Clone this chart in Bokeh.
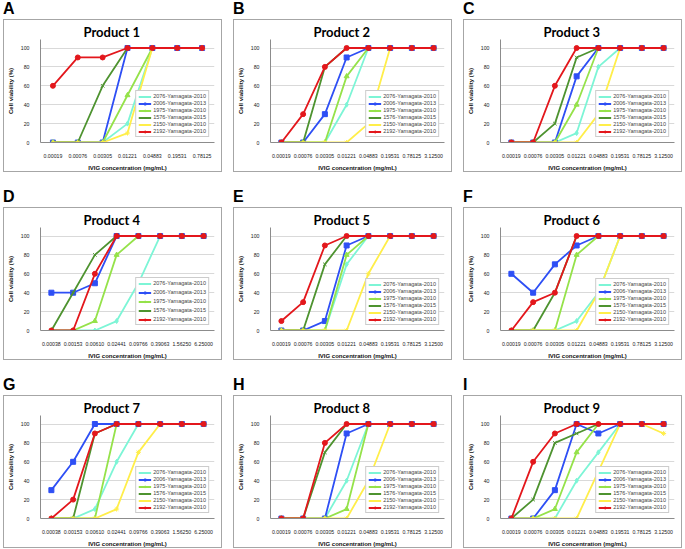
from bokeh.plotting import figure
from bokeh.layouts import column, row
from bokeh.models import Div, Range1d, FactorRange, FixedTicker
from bokeh.embed import file_html
from bokeh.resources import INLINE

# ---- data ----
conc_a = ["0.00019", "0.00076", "0.00305", "0.01221", "0.04883", "0.19531", "0.78125"]
conc_b = ["0.00019", "0.00076", "0.00305", "0.01221", "0.04883", "0.19531", "0.78125", "3.12500"]
conc_d = ["0.00038", "0.00153", "0.00610", "0.02441", "0.09766", "0.39063", "1.56250", "6.25000"]

strains = ["2076-Yamagata-2010", "2006-Yamagata-2013", "1975-Yamagata-2010",
           "1576-Yamagata-2015", "2150-Yamagata-2010", "2192-Yamagata-2010"]
y_ticks = [0, 20, 40, 60, 80, 100]

product1 = {
    "2076-Yamagata-2010": [0, 0, 0, 20, 100, 100, 100],
    "2006-Yamagata-2013": [0, 0, 0, 100, 100, 100, 100],
    "1975-Yamagata-2010": [0, 0, 0, 50, 100, 100, 100],
    "1576-Yamagata-2015": [0, 0, 60, 100, 100, 100, 100],
    "2150-Yamagata-2010": [0, 0, 0, 10, 100, 100, 100],
    "2192-Yamagata-2010": [60, 90, 90, 100, 100, 100, 100],
}
product2 = {
    "2076-Yamagata-2010": [0, 0, 0, 40, 100, 100, 100, 100],
    "2006-Yamagata-2013": [0, 0, 30, 90, 100, 100, 100, 100],
    "1975-Yamagata-2010": [0, 0, 0, 70, 100, 100, 100, 100],
    "1576-Yamagata-2015": [0, 0, 80, 100, 100, 100, 100, 100],
    "2150-Yamagata-2010": [0, 0, 0, 0, 20, 100, 100, 100],
    "2192-Yamagata-2010": [0, 30, 80, 100, 100, 100, 100, 100],
}
product3 = {
    "2076-Yamagata-2010": [0, 0, 0, 10, 80, 100, 100, 100],
    "2006-Yamagata-2013": [0, 0, 0, 70, 100, 100, 100, 100],
    "1975-Yamagata-2010": [0, 0, 0, 40, 100, 100, 100, 100],
    "1576-Yamagata-2015": [0, 0, 20, 90, 100, 100, 100, 100],
    "2150-Yamagata-2010": [0, 0, 0, 0, 30, 100, 100, 100],
    "2192-Yamagata-2010": [0, 0, 60, 100, 100, 100, 100, 100],
}
product4 = {
    "2076-Yamagata-2010": [0, 0, 0, 10, 50, 100, 100, 100],
    "2006-Yamagata-2013": [40, 40, 50, 100, 100, 100, 100, 100],
    "1975-Yamagata-2010": [0, 0, 10, 80, 100, 100, 100, 100],
    "1576-Yamagata-2015": [0, 40, 80, 100, 100, 100, 100, 100],
    "2192-Yamagata-2010": [0, 0, 60, 100, 100, 100, 100, 100],
}
product5 = {
    "2076-Yamagata-2010": [0, 0, 0, 70, 100, 100, 100, 100],
    "2006-Yamagata-2013": [0, 0, 10, 90, 100, 100, 100, 100],
    "1975-Yamagata-2010": [0, 0, 0, 80, 100, 100, 100, 100],
    "1576-Yamagata-2015": [0, 0, 70, 100, 100, 100, 100, 100],
    "2150-Yamagata-2010": [0, 0, 0, 0, 60, 100, 100, 100],
    "2192-Yamagata-2010": [10, 30, 90, 100, 100, 100, 100, 100],
}
product6 = {
    "2076-Yamagata-2010": [0, 0, 0, 10, 40, 100, 100, 100],
    "2006-Yamagata-2013": [60, 40, 70, 90, 100, 100, 100, 100],
    "1975-Yamagata-2010": [0, 0, 0, 80, 100, 100, 100, 100],
    "1576-Yamagata-2015": [0, 0, 40, 100, 100, 100, 100, 100],
    "2150-Yamagata-2010": [0, 0, 0, 0, 40, 100, 100, 100],
    "2192-Yamagata-2010": [0, 30, 40, 100, 100, 100, 100, 100],
}
product7 = {
    "2076-Yamagata-2010": [0, 0, 10, 60, 100, 100, 100, 100],
    "2006-Yamagata-2013": [30, 60, 100, 100, 100, 100, 100, 100],
    "1975-Yamagata-2010": [0, 0, 0, 100, 100, 100, 100, 100],
    "1576-Yamagata-2015": [0, 0, 90, 100, 100, 100, 100, 100],
    "2150-Yamagata-2010": [0, 0, 0, 10, 70, 100, 100, 100],
    "2192-Yamagata-2010": [0, 20, 90, 100, 100, 100, 100, 100],
}
product8 = {
    "2076-Yamagata-2010": [0, 0, 0, 40, 100, 100, 100, 100],
    "2006-Yamagata-2013": [0, 0, 0, 90, 100, 100, 100, 100],
    "1975-Yamagata-2010": [0, 0, 0, 10, 100, 100, 100, 100],
    "1576-Yamagata-2015": [0, 0, 70, 100, 100, 100, 100, 100],
    "2150-Yamagata-2010": [0, 0, 0, 0, 40, 100, 100, 100],
    "2192-Yamagata-2010": [0, 0, 80, 100, 100, 100, 100, 100],
}
product9 = {
    "2076-Yamagata-2010": [0, 0, 0, 40, 70, 100, 100, 100],
    "2006-Yamagata-2013": [0, 0, 30, 100, 90, 100, 100, 100],
    "1975-Yamagata-2010": [0, 0, 10, 70, 100, 100, 100, 100],
    "1576-Yamagata-2015": [0, 20, 80, 90, 100, 100, 100, 100],
    "2150-Yamagata-2010": [0, 0, 0, 0, 50, 100, 100, 90],
    "2192-Yamagata-2010": [0, 60, 90, 100, 100, 100, 100, 100],
}

colors = {
    "2076-Yamagata-2010": "#7DF5D6",
    "2006-Yamagata-2013": "#2E4FF5",
    "1975-Yamagata-2010": "#95E24A",
    "1576-Yamagata-2015": "#4E9330",
    "2150-Yamagata-2010": "#FFEE4A",
    "2192-Yamagata-2010": "#E3171C",
}
markers = {
    "2076-Yamagata-2010": "diamond",
    "2006-Yamagata-2013": "square",
    "1975-Yamagata-2010": "triangle",
    "1576-Yamagata-2015": "x",
    "2150-Yamagata-2010": "asterisk",
    "2192-Yamagata-2010": "circle",
}

FONT = "Liberation Sans"
TITLE_FONT = "Lato"
AXIS_GRAY = "#8C8C8C"


def panel(letter, title, conc, data, leg_spacing=1):
    p = figure(width=219, height=153, x_range=FactorRange(*conc), y_range=Range1d(0, 109),
               output_backend="svg", toolbar_location=None,
               min_border_left=26, min_border_right=9, min_border_top=19, min_border_bottom=28,
               styles={"border": "1px solid #A6A6A6", "box-sizing": "border-box"})
    p.outline_line_color = None
    p.background_fill_color = "white"
    p.border_fill_color = "white"
    p.xgrid.grid_line_color = None
    p.ygrid.grid_line_color = "#D9D9D9"
    p.ygrid.grid_line_width = 1
    p.yaxis.ticker = FixedTicker(ticks=y_ticks)
    for ax in (p.xaxis, p.yaxis):
        ax.axis_line_color = AXIS_GRAY
        ax.major_tick_line_color = None
        ax.minor_tick_line_color = None
        ax.major_label_text_font = FONT
        ax.major_label_text_font_size = "5.2px"
        ax.major_label_text_color = "#222222"
        ax.axis_label_text_font = FONT
        ax.axis_label_text_font_size = "6px"
        ax.axis_label_text_font_style = "bold"
        ax.axis_label_text_color = "#111111"
    p.xaxis.major_label_standoff = 5
    p.yaxis.major_label_standoff = 5
    p.xaxis.axis_label_standoff = 4
    p.yaxis.axis_label_standoff = 4
    p.xaxis.axis_label = "IVIG concentration (mg/mL)"
    p.yaxis.axis_label = "Cell viability (%)"

    p.title.text = title
    p.title.align = "left"
    p.title.offset = 43
    p.title.standoff = 0
    p.title.text_font = TITLE_FONT
    p.title.text_font_style = "bold"
    p.title.text_font_size = "13px"
    p.title.text_color = "#000000"

    for s in strains:
        if s not in data:
            continue
        vals = data[s]
        c = colors[s]
        p.line(conc, vals, line_color=c, line_width=1.8, legend_label=s)
        p.scatter(conc, vals, marker=markers[s], size=5, fill_color=c, line_color=c,
                  line_width=1, legend_label=s)

    lg = p.legend[0]
    lg.location = "bottom_right"
    lg.margin = 5
    lg.padding = 2
    lg.spacing = leg_spacing
    lg.glyph_height = 5
    lg.glyph_width = 13
    lg.label_height = 5
    lg.label_standoff = 2
    lg.label_text_font = "Liberation Sans"
    lg.label_text_font_size = "5.5px"
    lg.label_text_line_height = 1.0
    lg.border_line_color = "#9A9A9A"
    lg.border_line_width = 1
    lg.background_fill_color = "white"
    lg.background_fill_alpha = 1.0

    d = Div(text=letter, width=219, height=19, margin=(0, 0, 0, 0),
            styles={"font-family": "Liberation Sans", "font-weight": "bold",
                    "font-size": "16px", "line-height": "18px", "color": "#000"})
    return column(d, p, spacing=0, margin=(0, 0, 0, 0))


panels = [
    panel("A", "Product 1", conc_a, product1),
    panel("B", "Product 2", conc_b, product2),
    panel("C", "Product 3", conc_b, product3),
    panel("D", "Product 4", conc_d, product4, leg_spacing=3),
    panel("E", "Product 5", conc_b, product5),
    panel("F", "Product 6", conc_b, product6),
    panel("G", "Product 7", conc_d, product7),
    panel("H", "Product 8", conc_b, product8),
    panel("I", "Product 9", conc_b, product9),
]

rows = [row(*panels[i:i + 3], spacing=11) for i in (0, 3, 6)]
layout = column(*rows, spacing=16,
                styles={"position": "absolute", "left": "3px", "top": "0px"})

open("out.html", "w").write(file_html(layout, INLINE))
